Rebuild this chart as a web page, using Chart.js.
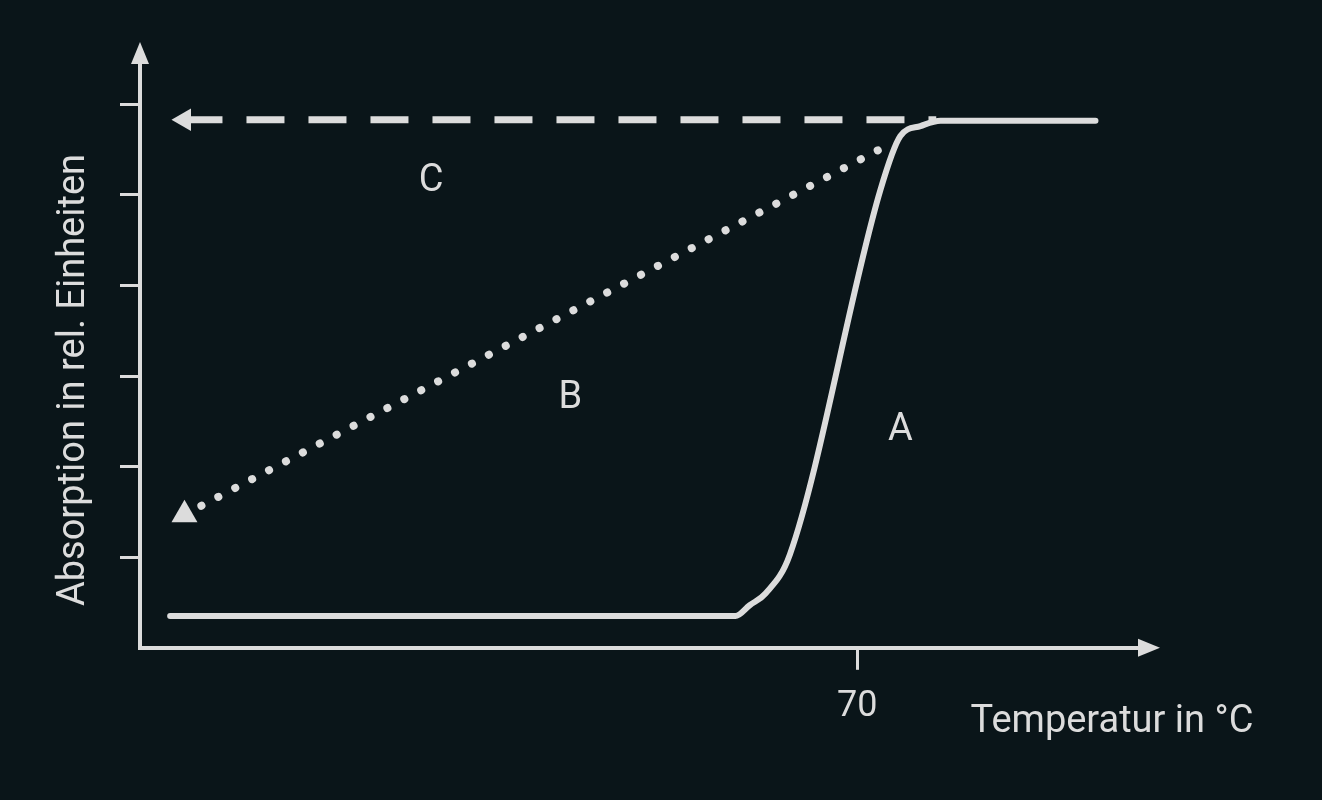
<!DOCTYPE html>
<html><head><meta charset="utf-8">
<script src="https://cdn.jsdelivr.net/npm/chart.js@4"></script>
<style>html,body{margin:0;background:#0a1519;}#c{display:block}</style>
</head><body>
<div style="width:1322px;height:800px"><canvas id="c"></canvas></div>
<script>
// curve A (temperature, absorption)
const aTemp = [22.1, 61.5, 62.5, 63.6, 65.3, 71.6, 73.0, 74.4, 75.8, 86.6];
const aAbs  = [0.35, 0.35, 0.47, 0.60, 1.03, 5.05, 5.65, 5.76, 5.82, 5.82];
// curve B (dotted, cooling)
const bTemp = [23.1, 72.0];
const bAbs  = [1.47, 5.54];
// curve C (dashed, back to start)
const cTemp = [23.1, 75.5];
const cAbs  = [5.83, 5.83];
const xTicks = [70];
const yTicks = [1, 2, 3, 4, 5, 6];

const fg = '#dcdcdc';
const pts = (xs, ys) => xs.map((x, i) => ({x, y: ys[i]}));

const deco = {
  id: 'deco',
  afterDraw(ch) {
    const {ctx, chartArea: a, scales: {x, y}} = ch;
    ctx.save();
    ctx.fillStyle = fg;
    // axis arrows
    ctx.beginPath();
    ctx.moveTo(a.left, a.top - 8); ctx.lineTo(a.left - 9, a.top + 14); ctx.lineTo(a.left + 9, a.top + 14); ctx.fill();
    ctx.beginPath();
    ctx.moveTo(a.right + 10, a.bottom); ctx.lineTo(a.right - 12, a.bottom - 9); ctx.lineTo(a.right - 12, a.bottom + 9); ctx.fill();
    ctx.font = '38px Roboto';
    ctx.textAlign = 'center'; ctx.textBaseline = 'middle';
    ctx.fillText('A', x.getPixelForValue(73.0), y.getPixelForValue(2.4));
    ctx.fillText('B', x.getPixelForValue(50.0), y.getPixelForValue(2.75));
    ctx.fillText('C', x.getPixelForValue(40.3), y.getPixelForValue(5.15));
    ctx.fillText('Temperatur in °C', 1112, 722);
    ctx.translate(74, 380); ctx.rotate(-Math.PI / 2);
    ctx.fillText('Absorption in rel. Einheiten', 0, 0);
    ctx.restore();
  }
};

new Chart(document.getElementById('c'), {
  type: 'scatter',
  data: {
    datasets: [
      { data: pts(aTemp, aAbs), showLine: true, borderColor: fg, borderWidth: 6,
        cubicInterpolationMode: 'monotone', pointRadius: 0, borderCapStyle: 'round' },
      { data: pts(bTemp, bAbs), showLine: true, borderColor: fg, borderWidth: 8,
        borderDash: [0.1, 19], borderCapStyle: 'round',
        pointRadius: [15, 0], pointStyle: 'triangle', backgroundColor: fg, pointBorderWidth: 0 },
      { data: pts(cTemp, cAbs), showLine: true, borderColor: fg, borderWidth: 7,
        borderDash: [38, 24], borderDashOffset: 0,
        pointRadius: [13, 0], pointStyle: 'triangle', pointRotation: 270,
        backgroundColor: fg, pointBorderWidth: 0 }
    ]
  },
  options: {
    responsive: true, maintainAspectRatio: false, animation: false,
    layout: { padding: { left: 120, top: 50, right: 172, bottom: 55 } },
    plugins: { legend: { display: false }, tooltip: { enabled: false } },
    scales: {
      x: { min: 20, max: 90.4,
        afterBuildTicks: s => { s.ticks = xTicks.map(v => ({value: v})); },
        border: { color: fg, width: 4 },
        grid: { drawOnChartArea: false, color: fg, lineWidth: 3, tickLength: 22 },
        ticks: { color: fg, font: { size: 36, family: 'Roboto' }, padding: 16 } },
      y: { min: 0, max: 6.6,
        afterBuildTicks: s => { s.ticks = yTicks.map(v => ({value: v})); },
        border: { color: fg, width: 4 },
        grid: { drawOnChartArea: false, color: fg, lineWidth: 3, tickLength: 20 },
        ticks: { display: false } }
    }
  },
  plugins: [deco]
});
</script>
</body></html>
